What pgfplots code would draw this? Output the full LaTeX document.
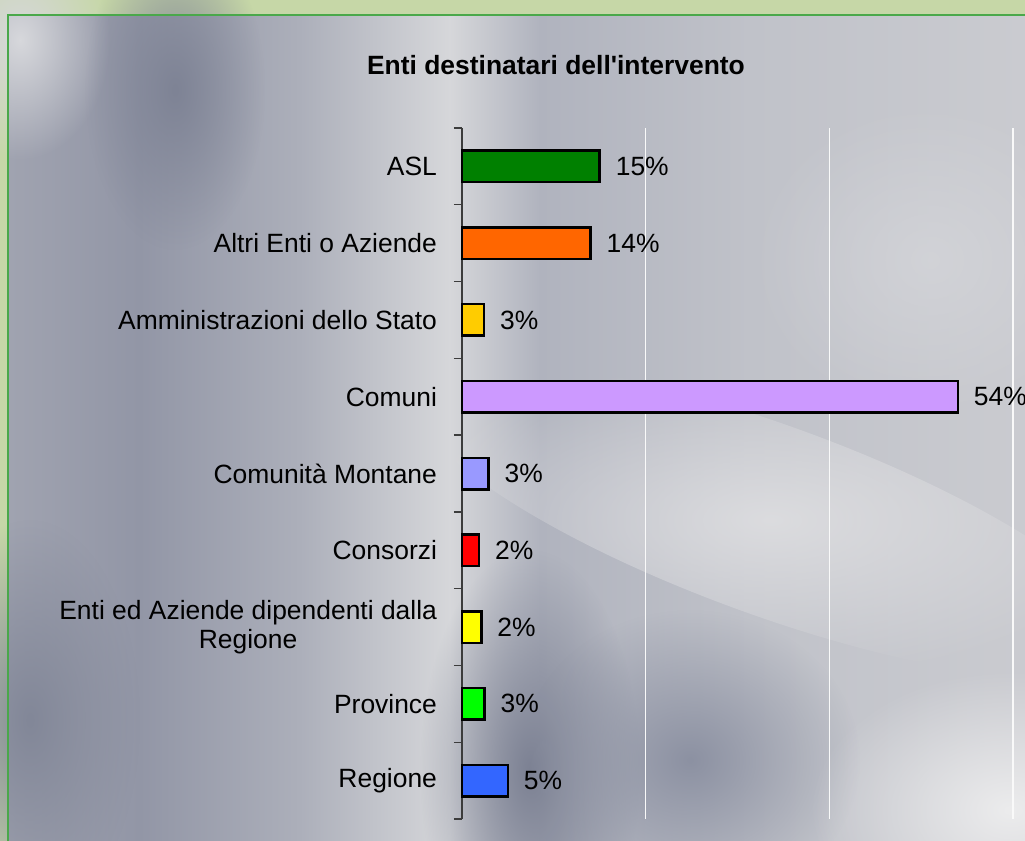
\documentclass[border=0pt]{standalone}
\usepackage{pgfplots}
\pgfplotsset{compat=1.18}
\usepackage{fontspec}
\setmainfont{Liberation Sans}
\usetikzlibrary{fadings}
\definecolor{outergreen}{HTML}{C6D7A7}
\definecolor{bordergreen}{HTML}{4AA84A}
\definecolor{cASL}{HTML}{008000}
\definecolor{cAltri}{HTML}{FF6600}
\definecolor{cAmm}{HTML}{FFCC00}
\definecolor{cComuni}{HTML}{CC99FF}
\definecolor{cComunita}{HTML}{9999FF}
\definecolor{cConsorzi}{HTML}{FF0000}
\definecolor{cEnti}{HTML}{FFFF00}
\definecolor{cProvince}{HTML}{00FF00}
\definecolor{cRegione}{HTML}{3366FF}
\tikzfading[name=blobfade, inner color=transparent!0, outer color=transparent!100]
\newcommand{\lblfont}{\fontsize{10.57}{11.4}\selectfont}
\begin{document}
\begin{tikzpicture}
\useasboundingbox (0,0) rectangle (410pt,336.4pt);
\clip (0,0) rectangle (410pt,336.4pt);
\begin{scope}[x=0.4pt,y=-0.4pt,shift={(0pt,336.4pt)}]
  \fill[outergreen] (0,0) rectangle (1025,841);
  % background segments
  \shade[left color={rgb,255:red,160;green,163;blue,176}, right color={rgb,255:red,146;green,150;blue,166}] (9,16) rectangle (140,841);
  \shade[left color={rgb,255:red,146;green,150;blue,166}, right color={rgb,255:red,172;green,175;blue,186}] (139.5,16) rectangle (300,841);
  \shade[left color={rgb,255:red,172;green,175;blue,186}, right color={rgb,255:red,214;green,215;blue,218}] (299.5,16) rectangle (450,841);
  \shade[left color={rgb,255:red,214;green,215;blue,218}, right color={rgb,255:red,176;green,179;blue,190}] (449.5,16) rectangle (540,841);
  \shade[left color={rgb,255:red,176;green,179;blue,190}, right color={rgb,255:red,192;green,194;blue,201}] (539.5,16) rectangle (750,841);
  \shade[left color={rgb,255:red,192;green,194;blue,201}, right color={rgb,255:red,202;green,203;blue,208}] (749.5,16) rectangle (1025,841);
  % blobs
  \fill[color={rgb,255:red,215;green,216;blue,220}, path fading=blobfade] (20,40) ellipse [x radius=90, y radius=120];
  \fill[color={rgb,255:red,126;green,131;blue,149}, path fading=blobfade] (175,90) ellipse [x radius=90, y radius=160];
  \fill[color={rgb,255:red,130;green,135;blue,152}, path fading=blobfade] (30,720) ellipse [x radius=110, y radius=200];
  \fill[color={rgb,255:red,124;green,129;blue,147}, path fading=blobfade] (530,770) ellipse [x radius=110, y radius=220];
  \fill[color={rgb,255:red,140;green,145;blue,162}, path fading=blobfade] (690,760) ellipse [x radius=170, y radius=150];
  \fill[color={rgb,255:red,236;green,236;blue,237}, path fading=blobfade] (1010,810) ellipse [x radius=200, y radius=140];
  \begin{scope}[shift={(770,520)},rotate=-20]
    \fill[color={rgb,255:red,226;green,226;blue,228}, fill opacity=0.8, path fading=blobfade] (0,0) ellipse [x radius=380, y radius=95];
  \end{scope}
  \fill[color={rgb,255:red,214;green,215;blue,219}, fill opacity=0.7, path fading=blobfade] (930,260) ellipse [x radius=180, y radius=160];
  % border
  \draw[bordergreen, line width=0.9pt] (8,1000) -- (8,15) -- (1100,15);
\end{scope}
\node[font=\bfseries\lblfont] at (222.4pt,310.4pt) {Enti destinatari dell\textquotesingle intervento};
\begin{axis}[
  at={(184.8pt,8.8pt)}, anchor=south west,
  scale only axis, width=220.4pt, height=276.4pt,
  xbar, bar width=12.6pt, bar shift=0pt,
  xmin=0, xmax=60, ymin=-0.5, ymax=8.5, y dir=reverse,
  axis lines*=left,
  x axis line style={draw=none},
  y axis line style={draw={rgb,255:red,60;green,60;blue,60}, line width=0.5pt},
  xtick={20,40,60}, xticklabels={}, xtick style={draw=none},
  xmajorgrids=true,
  major x grid style={draw=white!95!gray, line width=0.5pt},
  ytick={0,1,2,3,4,5,6,7,8},
  yticklabels={ASL,Altri Enti o Aziende,Amministrazioni dello Stato,Comuni,Comunità Montane,Consorzi,{Enti ed Aziende dipendenti dalla\\Regione},Province,Regione},
  major y tick style={draw=none},
  minor ytick={-0.5,0.5,1.5,2.5,3.5,4.5,5.5,6.5,7.5,8.5},
  minor tick length=3.2pt,
  minor y tick style={draw={rgb,255:red,60;green,60;blue,60}, line width=0.5pt},
  tick align=outside,
  major tick length=0pt,
  yticklabel style={font=\lblfont, align=center, anchor=east, xshift=-6.5pt},
  point meta=explicit symbolic,
  nodes near coords={\pgfplotspointmeta},
  nodes near coords style={font=\lblfont, anchor=west, xshift=2.6pt},
  every axis plot/.append style={draw=black, line width=1pt},
  clip=false,
]
\addplot[fill=cASL] coordinates {(15.0,0) [15\%]};
\addplot[fill=cAltri] coordinates {(14.0,1) [14\%]};
\addplot[fill=cAmm] coordinates {(2.4,2) [3\%]};
\addplot[fill=cComuni] coordinates {(54.0,3) [54\%]};
\addplot[fill=cComunita] coordinates {(2.9,4) [3\%]};
\addplot[fill=cConsorzi] coordinates {(1.85,5) [2\%]};
\addplot[fill=cEnti] coordinates {(2.1,6) [2\%]};
\addplot[fill=cProvince] coordinates {(2.45,7) [3\%]};
\addplot[fill=cRegione] coordinates {(5.0,8) [5\%]};
\end{axis}
\end{tikzpicture}
\end{document}
